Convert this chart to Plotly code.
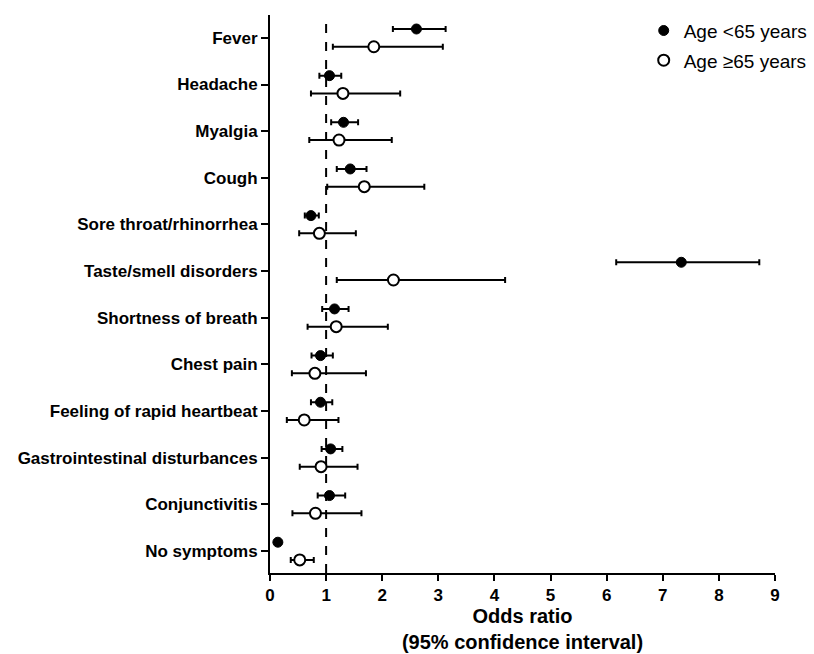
import plotly.graph_objects as go

categories = ["Fever", "Headache", "Myalgia", "Cough", "Sore throat/rhinorrhea",
              "Taste/smell disorders", "Shortness of breath", "Chest pain",
              "Feeling of rapid heartbeat", "Gastrointestinal disturbances",
              "Conjunctivitis", "No symptoms"]

# Age <65 years
or_young = [2.61, 1.06, 1.31, 1.43, 0.73, 7.33, 1.15, 0.90, 0.90, 1.08, 1.06, 0.14]
lo_young = [2.19, 0.88, 1.09, 1.19, 0.62, 6.17, 0.93, 0.74, 0.73, 0.92, 0.85, 0.14]
hi_young = [3.13, 1.27, 1.57, 1.72, 0.87, 8.72, 1.40, 1.12, 1.11, 1.29, 1.34, 0.14]

# Age >=65 years
or_old = [1.85, 1.30, 1.23, 1.68, 0.88, 2.20, 1.18, 0.80, 0.61, 0.91, 0.81, 0.53]
lo_old = [1.12, 0.73, 0.70, 1.02, 0.52, 1.19, 0.67, 0.39, 0.30, 0.53, 0.40, 0.37]
hi_old = [3.08, 2.32, 2.17, 2.75, 1.53, 4.19, 2.10, 1.71, 1.22, 1.56, 1.63, 0.78]

x_ticks = list(range(0, 10))

FONT = "Arial, Liberation Sans, sans-serif"
pos = list(range(len(categories)))
off = 0.19

fig = go.Figure()
fig.add_trace(go.Scatter(
    x=or_young, y=[p - off for p in pos], mode="markers", name="Age <65 years",
    marker=dict(symbol="circle", size=10, color="black", line=dict(color="black", width=1)),
    error_x=dict(type="data", symmetric=False,
                 array=[h - o for h, o in zip(hi_young, or_young)],
                 arrayminus=[o - l for o, l in zip(or_young, lo_young)],
                 color="black", thickness=2, width=3),
    legendgroup="a",
))
fig.add_trace(go.Scatter(
    x=or_old, y=[p + off for p in pos], mode="markers", name="Age \u226565 years",
    marker=dict(symbol="circle", size=11, color="white", line=dict(color="black", width=2)),
    error_x=dict(type="data", symmetric=False,
                 array=[h - o for h, o in zip(hi_old, or_old)],
                 arrayminus=[o - l for o, l in zip(or_old, lo_old)],
                 color="black", thickness=2, width=3),
    legendgroup="b",
))

fig.add_shape(type="line", x0=1, x1=1, xref="x", y0=0, y1=1, yref="paper",
              line=dict(color="black", width=2, dash="dash"), layer="below")

fig.update_layout(
    width=814, height=654,
    margin=dict(l=270, r=39, t=15, b=81, autoexpand=False),
    plot_bgcolor="white", paper_bgcolor="white",
    font=dict(family=FONT, color="black"),
    showlegend=True,
    legend=dict(x=0.74, y=1.006, xanchor="left", yanchor="top",
                font=dict(size=19, family=FONT), tracegroupgap=2,
                bgcolor="rgba(0,0,0,0)", itemwidth=30),
    xaxis=dict(range=[0, 9], tickvals=x_ticks, ticktext=[str(t) for t in x_ticks],
               showgrid=False, zeroline=False, showline=True, linecolor="black", linewidth=2,
               ticks="outside", ticklen=6, tickwidth=2, tickcolor="black",
               tickfont=dict(size=17, family=FONT, weight="bold"),
               title=dict(text="<b>Odds ratio<br>(95% confidence interval)</b>",
                          font=dict(size=20, family=FONT), standoff=3)),
    yaxis=dict(range=[11.47, -0.49], tickvals=pos, ticktext=categories,
               showgrid=False, zeroline=False, showline=True, linecolor="black", linewidth=2,
               ticks="outside", ticklen=7, tickwidth=2, tickcolor="black",
               tickfont=dict(size=17, family=FONT, weight="bold")),
)

fig.write_html("out.html")
